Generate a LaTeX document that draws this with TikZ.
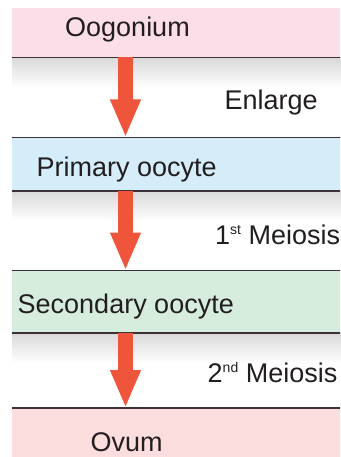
\documentclass[tikz,border=0pt]{standalone}
\usepackage{fontspec}
\setmainfont{Liberation Sans}
\usetikzlibrary{arrows.meta,positioning}
\definecolor{pinkA}{RGB}{252,222,233}
\definecolor{blueA}{RGB}{213,237,249}
\definecolor{greenA}{RGB}{214,237,222}
\definecolor{pinkB}{RGB}{252,221,221}
\definecolor{sepline}{RGB}{58,50,54}
\definecolor{arrowred}{RGB}{238,85,58}
\definecolor{txt}{RGB}{34,30,32}
\newcommand{\supx}[1]{\raisebox{0.68ex}{\fontsize{14}{14}\selectfont #1}}
\tikzset{
  band/.style={draw=none, rectangle, inner sep=0pt, minimum width=328pt, anchor=north west},
  sepl/.style={draw=sepline, line width=1.5pt},
  lbl/.style={anchor=base west, inner sep=0pt, text=txt, font=\fontsize{27}{30}\selectfont},
  bigarrow/.style={draw=arrowred, line width=15pt, -{Triangle[width=28pt,length=38pt]}},
  fade/.style={top color=black!15, bottom color=white}
}
\begin{document}
\begin{tikzpicture}[x=1pt,y=-1pt]
\useasboundingbox (0,0) rectangle (340,457);
\fill[white] (0,0) rectangle (340,457);
% bands
\node[band, fill=pinkA, minimum height=49pt] (oog) at (12,8) {};
\node[band, fill=blueA, minimum height=53pt] (prim) at (12,137.5) {};
\node[band, fill=greenA, minimum height=62pt] (sec) at (12,270.5) {};
\node[band, fill=pinkB, minimum height=49pt] (ovum) at (12,408) {};
% shading under separators
\shade[fade] (oog.south west) rectangle ([yshift=-30pt]oog.south east);
\shade[fade] (prim.south west) rectangle ([yshift=-30pt]prim.south east);
\shade[fade] (sec.south west) rectangle ([yshift=-30pt]sec.south east);
% separator lines
\draw[sepl] (oog.south west) -- (oog.south east);
\draw[sepl] (prim.north west) -- (prim.north east);
\draw[sepl] (prim.south west) -- (prim.south east);
\draw[sepl] (sec.north west) -- (sec.north east);
\draw[sepl] (sec.south west) -- (sec.south east);
\draw[sepl] (ovum.north west) -- (ovum.north east);
% arrows
\coordinate (ax) at (125.5,0);
\draw[bigarrow] (oog.south -| ax) -- (prim.north -| ax);
\draw[bigarrow] (prim.south -| ax) -- (sec.north -| ax);
\draw[bigarrow] (sec.south -| ax) -- (ovum.north -| ax);
% labels
\node[lbl] (t1) at (65,37) {Oogonium};
\node[lbl] (t2) at (224.5,110) {Enlarge};
\node[lbl] (t3) at (36.5,176) {Primary oocyte};
\node[lbl] (t4) at (215,244) {1\supx{st} Meiosis};
\node[lbl] (t5) at (17.5,313) {Secondary oocyte};
\node[lbl] (t6) at (207.5,382) {2\supx{nd} Meiosis};
\node[lbl] (t7) at (90.5,451) {Ovum};
\end{tikzpicture}
\end{document}
